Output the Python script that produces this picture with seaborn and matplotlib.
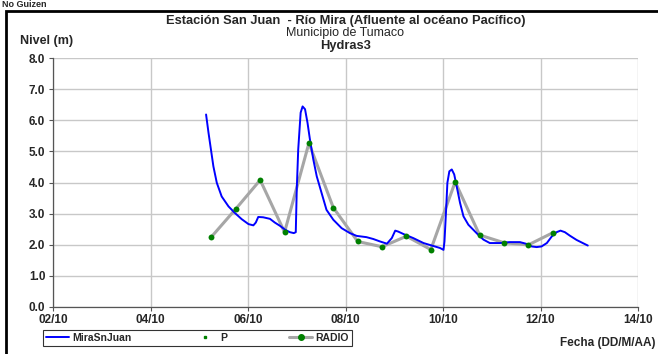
import numpy as np
import pandas as pd
import seaborn as sns
import matplotlib.pyplot as plt
import matplotlib.dates as mdates
from matplotlib.lines import Line2D
from matplotlib.patches import Rectangle

sns.set_style("whitegrid")
plt.rcParams["font.family"] = ["Liberation Sans", "DejaVu Sans"]

# Serie MiraSnJuan: día de octubre (fraccional) y nivel (m)
mira_dia = [5.14, 5.19, 5.24, 5.29, 5.36, 5.46, 5.60, 5.73, 5.87, 6.01,
            6.11, 6.16, 6.21, 6.31, 6.45, 6.55, 6.66, 6.76, 6.86, 6.94,
            6.98, 7.00, 7.03, 7.08, 7.12, 7.17, 7.22, 7.27, 7.34, 7.41,
            7.51, 7.61, 7.75, 7.92, 8.09, 8.23, 8.43, 8.57, 8.71, 8.85,
            8.95, 9.02, 9.08, 9.19, 9.39, 9.60, 9.77, 9.94, 10.01, 10.03,
            10.06, 10.09, 10.13, 10.18, 10.23, 10.28, 10.35, 10.42, 10.52, 10.62,
            10.72, 10.83, 10.96, 11.17, 11.37, 11.58, 11.72, 11.82, 11.92, 12.02,
            12.13, 12.23, 12.33, 12.41, 12.50, 12.60, 12.74, 12.88, 12.97]
mira_nivel = [6.19, 5.60, 5.06, 4.52, 3.99, 3.55, 3.23, 3.02, 2.82, 2.66,
              2.62, 2.71, 2.89, 2.88, 2.83, 2.71, 2.60, 2.48, 2.40, 2.37,
              2.40, 3.77, 5.06, 6.25, 6.45, 6.36, 5.93, 5.39, 4.74, 4.20,
              3.66, 3.12, 2.80, 2.53, 2.37, 2.28, 2.24, 2.18, 2.10, 2.03,
              2.21, 2.45, 2.42, 2.34, 2.21, 2.05, 1.97, 1.89, 1.83, 2.10,
              3.00, 3.99, 4.36, 4.42, 4.26, 3.88, 3.34, 2.91, 2.64, 2.48,
              2.32, 2.16, 2.05, 2.05, 2.08, 2.08, 2.02, 1.94, 1.92, 1.94,
              2.05, 2.26, 2.40, 2.45, 2.40, 2.29, 2.15, 2.04, 1.97]

# Serie RADIO (y P): cada 12 horas
radio_dia = [5.25, 5.75, 6.25, 6.75, 7.25, 7.75, 8.25, 8.75, 9.25, 9.75,
             10.25, 10.75, 11.25, 11.75, 12.25]
radio_nivel = [2.25, 3.15, 4.08, 2.40, 5.27, 3.19, 2.10, 1.93, 2.27, 1.84,
               4.02, 2.31, 2.06, 1.99, 2.38]

x_ticks = ["2010-10-02", "2010-10-04", "2010-10-06", "2010-10-08",
           "2010-10-10", "2010-10-12", "2010-10-14"]
y_ticks = [0, 1, 2, 3, 4, 5, 6, 7, 8]

base = pd.Timestamp("2010-10-01")
mira = pd.DataFrame({"fecha": base + pd.to_timedelta(np.array(mira_dia) - 1, unit="D"),
                     "nivel": mira_nivel})
radio = pd.DataFrame({"fecha": base + pd.to_timedelta(np.array(radio_dia) - 1, unit="D"),
                      "nivel": radio_nivel})

fig = plt.figure(figsize=(6.58, 3.54), dpi=100)
ax = fig.add_axes([53 / 658, 47.3 / 354, 585 / 658, 248.4 / 354])

sns.lineplot(data=radio, x="fecha", y="nivel", ax=ax, color="#a6a6a6",
             linewidth=2.2, zorder=3)
sns.lineplot(data=mira, x="fecha", y="nivel", ax=ax, color="#0000ff",
             linewidth=1.4, zorder=4)
ax.scatter(radio["fecha"], radio["nivel"], marker="s", s=4, color="#008000", zorder=5)
ax.scatter(radio["fecha"], radio["nivel"], marker="o", s=18, color="#008000",
           linewidths=0, zorder=6)

ticks = pd.to_datetime(x_ticks)
ax.set_xlim(ticks[0], ticks[-1])
ax.set_xticks(ticks)
ax.xaxis.set_major_formatter(mdates.DateFormatter("%d/%m"))
ax.set_ylim(0, 8)
ax.set_yticks(y_ticks)
ax.set_yticklabels([f"{v:.1f}" for v in y_ticks])
ax.set_xlabel("")
ax.set_ylabel("")
ax.grid(True, color="#c8c8c8", linewidth=1.0)
for side in ["top", "right"]:
    ax.spines[side].set_visible(False)
for side in ["left", "bottom"]:
    ax.spines[side].set_color("#555555")
    ax.spines[side].set_linewidth(0.9)
ax.tick_params(axis="both", length=3, width=0.8, color="#555555", labelsize=8.5,
               pad=2.5, direction="out", left=True, bottom=True)
for lab in ax.get_xticklabels() + ax.get_yticklabels():
    lab.set_fontweight("bold")

# Marco exterior
fig.patches.append(Rectangle((6 / 658, -0.02), 1.0, (354 - 11) / 354 + 0.02,
                             transform=fig.transFigure, fill=False,
                             edgecolor="black", linewidth=2.0))
fig.text(2 / 658, 1.0, "No Guizen", fontsize=6.5, fontweight="bold",
         ha="left", va="top")

cx = (53 + 638) / 2 / 658
fig.text(cx, 1 - 21 / 354, "Estación San Juan  - Río Mira (Afluente al océano Pacífico)",
         fontsize=9.3, fontweight="bold", ha="center", va="center")
fig.text(cx, 1 - 33 / 354, "Municipio de Tumaco", fontsize=9,
         ha="center", va="center")
fig.text(cx, 1 - 45.5 / 354, "Hydras3", fontsize=9.3, fontweight="bold",
         ha="center", va="center")
fig.text(20 / 658, 1 - 41 / 354, "Nivel (m)", fontsize=9, fontweight="bold",
         ha="left", va="center")
fig.text(655 / 658, 1 - 343 / 354, "Fecha (DD/M/AA)", fontsize=8.5,
         fontweight="bold", ha="right", va="center")

handles = [
    Line2D([], [], color="#0000ff", linewidth=1.4),
    Line2D([], [], color="#008000", marker="s", markersize=2, linestyle="none"),
    Line2D([], [], color="#a6a6a6", linewidth=2.2, marker="o",
           markerfacecolor="#008000", markeredgecolor="#008000", markersize=4),
]
leg = fig.legend(handles, ["MiraSnJuan", "P", "RADIO"], ncol=3, mode="expand",
                 loc="lower left",
                 bbox_to_anchor=(38 / 658, 3 / 354, 319 / 658, 22 / 354),
                 bbox_transform=fig.transFigure, frameon=True, fancybox=False,
                 prop={"size": 7.5, "weight": "bold"}, handlelength=2.2,
                 borderpad=0.3, handletextpad=0.3, columnspacing=1.0)
leg.get_frame().set_edgecolor("black")
leg.get_frame().set_linewidth(0.8)

fig.savefig("out.png", dpi=100)
plt.close(fig)
